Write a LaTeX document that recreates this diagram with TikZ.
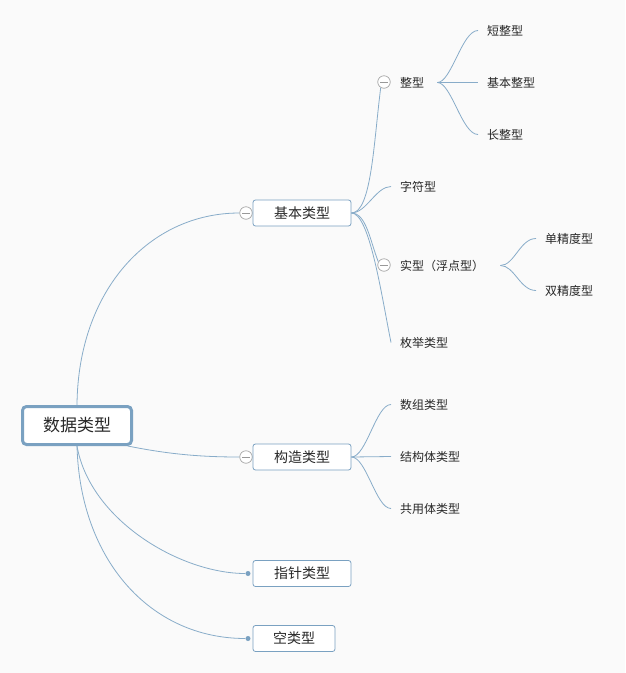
\documentclass[tikz,border=0pt]{standalone}
\usepackage{fontspec}
\newfontfamily\cjk{Noto Sans CJK SC}
\usetikzlibrary{calc}
\definecolor{linecol}{RGB}{136,172,201}
\definecolor{boxcol}{RGB}{122,161,193}
\definecolor{txtcol}{RGB}{40,40,40}
\definecolor{bgcol}{RGB}{250,250,250}

\begin{document}
\begin{tikzpicture}[x=1pt, y=-1pt,
  root/.style={draw=boxcol, line width=3pt, rounded corners=4pt, fill=white, minimum width=109pt, minimum height=38pt, font=\cjk\fontsize{17}{19}\selectfont, text=txtcol},
  topic/.style={draw=boxcol, line width=0.8pt, rounded corners=2.5pt, fill=white, minimum height=26pt, font=\cjk\fontsize{14}{16}\selectfont, text=txtcol},
  leaf/.style={anchor=west, inner xsep=9pt, inner ysep=2pt, font=\cjk\fontsize{12}{14}\selectfont, text=txtcol},
  fold/.style={circle, draw=gray!70, fill=white, line width=0.7pt, minimum size=12.5pt, inner sep=0pt,
    path picture={\draw[gray!80, line width=0.7pt] ([xshift=-4pt]path picture bounding box.center) -- ([xshift=4pt]path picture bounding box.center);}},
  dot/.style={circle, fill=boxcol, minimum size=5pt, inner sep=0pt},
  link/.style={draw=linecol, line width=0.8pt}]
\fill[bgcol] (0,0) rectangle (625,673);
\useasboundingbox (0,0) rectangle (625,673);

\node[root] (root) at (77,425.5) {数据类型};

\node[fold] (f1) at (246,213) {};
\node[fold] (f2) at (246,457) {};
\node[dot] (d1) at (248,573.5) {};
\node[dot] (d2) at (248,638.5) {};
\node[topic, minimum width=98pt] (basic) at (302,213) {基本类型};
\node[topic, minimum width=98pt] (build) at (302,457) {构造类型};
\node[topic, minimum width=98pt] (ptr) at (302,573.5) {指针类型};
\node[topic, minimum width=82pt] (void) at (294,638.5) {空类型};

\draw[link] (root.north) .. controls +(1,-115) and +(-90,0) .. (f1.west);
\draw[link] (root.-22) .. controls +(40,8) and +(-40,0) .. (f2.west);
\draw[link] (root.south) .. controls +(13,74) and +(-65,0) .. (d1.west);
\draw[link] (root.south) .. controls +(3,114) and +(-95,0) .. (d2.west);

% basic types
\node[fold] (f3) at (384,82) {};
\node[fold] (f4) at (384,265) {};
\node[leaf] (int) at (391,82.5) {整型};
\node[leaf] (char) at (391,186.5) {字符型};
\node[leaf] (real) at (391,265.5) {实型（浮点型）};
\node[leaf] (enum) at (391,342.5) {枚举类型};
\draw[link] (basic.east) .. controls +(20,0) and +(-7,55) .. (f3.240);
\draw[link] (basic.east) .. controls +(15,0) and +(-15,0) .. (char.west);
\draw[link] (basic.east) .. controls +(15,0) and +(-8,-20) .. (f4.150);
\draw[link] (basic.east) .. controls +(18,0) and +(-10,-50) .. (enum.west);

\node[leaf] (short) at (478,30.5) {短整型};
\node[leaf] (plain) at (478,82.5) {基本整型};
\node[leaf] (long) at (478,134.5) {长整型};
\draw[link] ([xshift=4pt]int.east) .. controls +(14,0) and +(-16,0) .. (short.west);
\draw[link] ([xshift=4pt]int.east) -- (plain.west);
\draw[link] ([xshift=4pt]int.east) .. controls +(14,0) and +(-16,0) .. (long.west);

\node[leaf] (single) at (536,238.5) {单精度型};
\node[leaf] (double) at (536,290.5) {双精度型};
\draw[link] ([xshift=7pt]real.east) .. controls +(14,0) and +(-16,0) .. (single.west);
\draw[link] ([xshift=7pt]real.east) .. controls +(14,0) and +(-16,0) .. (double.west);

% built types
\node[leaf] (array) at (391,404.5) {数组类型};
\node[leaf] (struct) at (391,456.5) {结构体类型};
\node[leaf] (union) at (391,508.5) {共用体类型};
\draw[link] (build.east) .. controls +(15,0) and +(-15,0) .. (array.west);
\draw[link] (build.east) -- (struct.west);
\draw[link] (build.east) .. controls +(15,0) and +(-15,0) .. (union.west);
\end{tikzpicture}
\end{document}
